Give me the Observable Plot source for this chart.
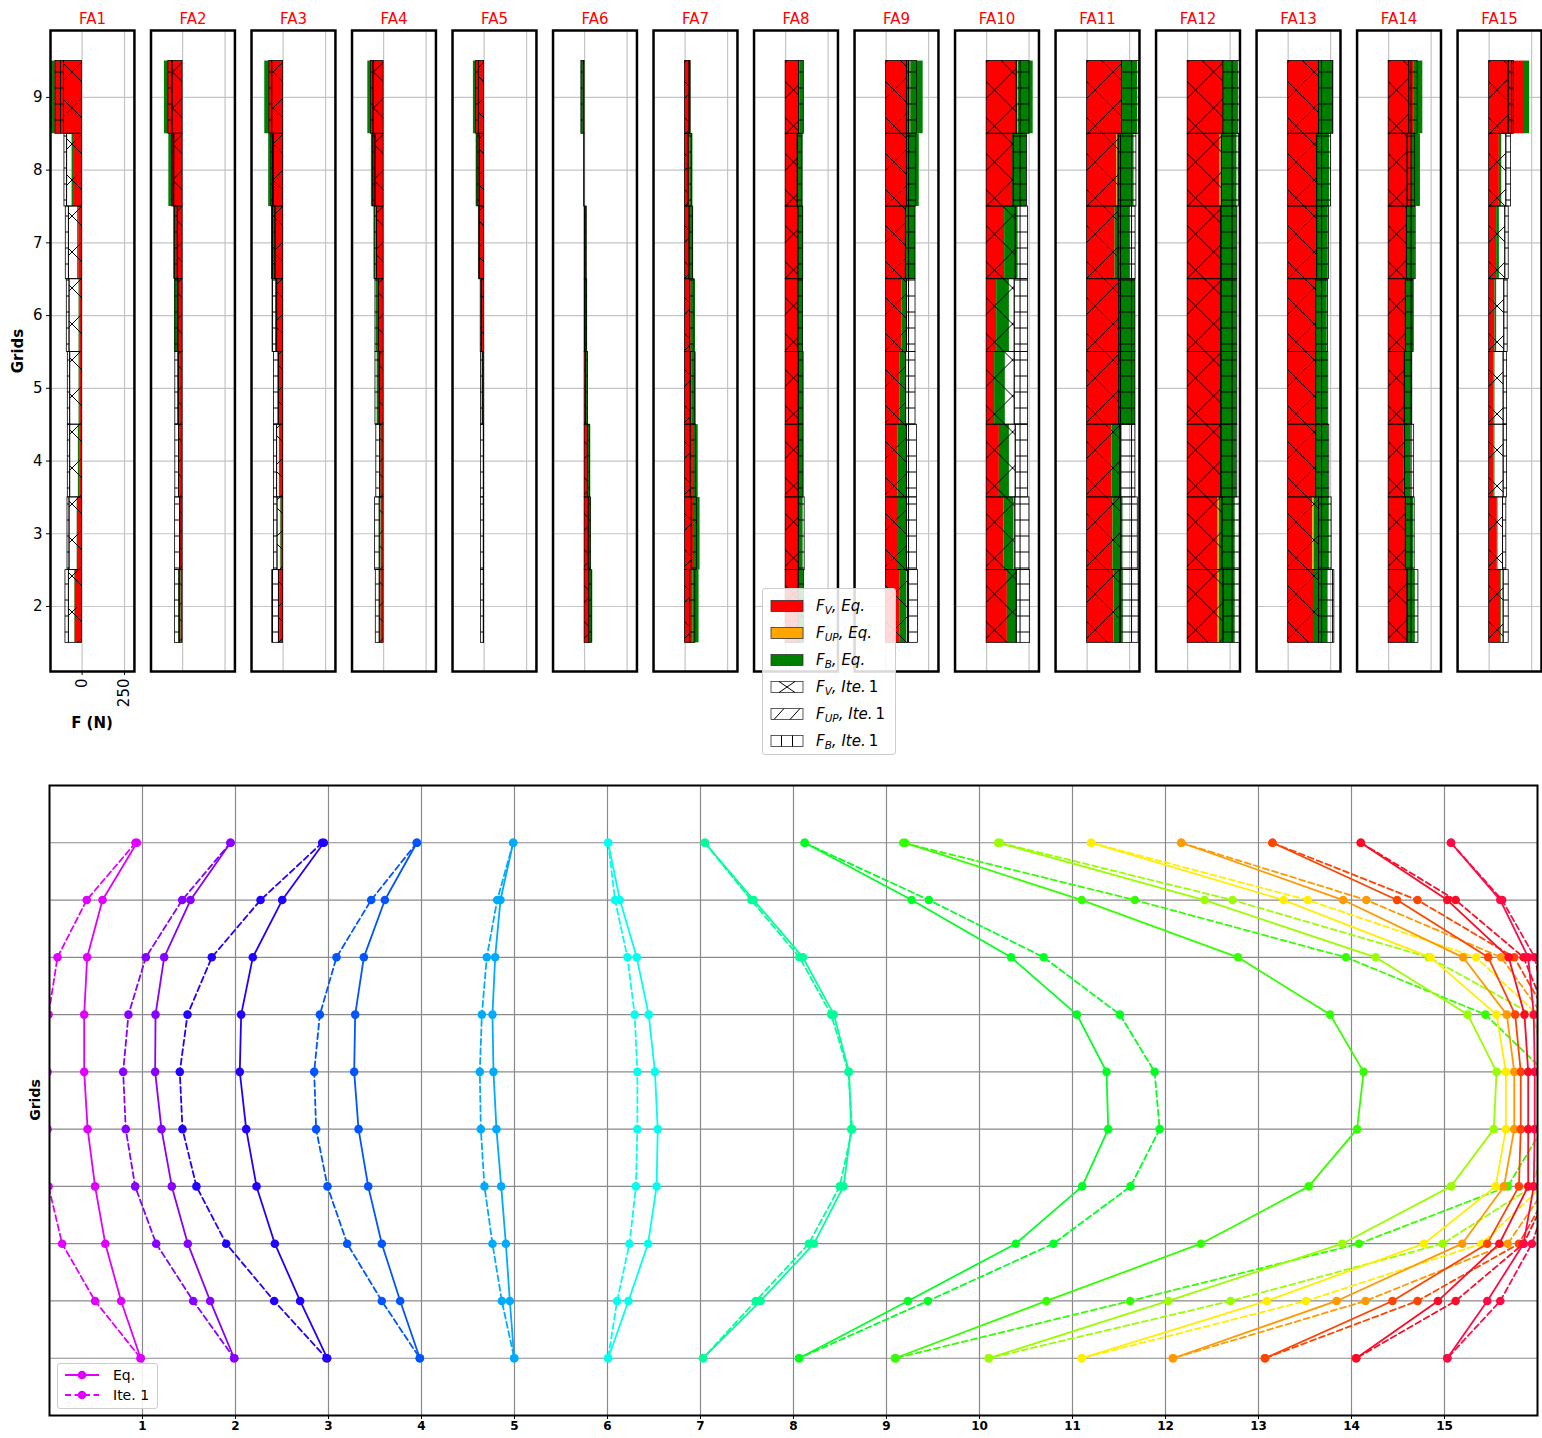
<!DOCTYPE html>
<html>
<head>
<meta charset="utf-8">
<script src="https://cdn.jsdelivr.net/npm/d3@7"></script>
<script src="https://cdn.jsdelivr.net/npm/@observablehq/plot@0.6"></script>
<style>
  body { margin: 0; background: #fff; font-family: "DejaVu Sans", sans-serif; }
  #wrap { position: relative; width: 1542px; height: 1438px; overflow: hidden; }
  #top { position: absolute; left: 0; top: 0; }
  #bottom { position: absolute; left: 0; top: 740px; }
  #top g[aria-label="fx-axis tick label"] text { fill: #ff0000; }
  #bottom g[aria-label="x-axis tick label"] text { font-weight: bold; }
  .legend { position: absolute; background: rgba(255,255,255,0.85); border: 1px solid #cccccc; border-radius: 3px; z-index: 5; }
  .lrow { position: absolute; left: 0; display: flex; align-items: center; white-space: nowrap; }
  .lrow svg { display: block; }
  .ylab { position: absolute; font-weight: bold; transform: translate(-50%, -50%) rotate(-90deg); white-space: nowrap; }
  .xlab { position: absolute; font-weight: bold; transform: translate(-50%, -50%); white-space: nowrap; }
  sub { font-size: 70%; vertical-align: -0.25em; }
</style>
</head>
<body>
<svg width="0" height="0" style="position:absolute">
  <defs>
    <pattern id="hX" patternUnits="userSpaceOnUse" width="36" height="36">
      <path d="M-9,-9L45,45M45,-9L-9,45" stroke="#000" stroke-width="1" fill="none"/>
    </pattern>
    <pattern id="hSlash" patternUnits="userSpaceOnUse" width="12" height="12">
      <path d="M0,12L12,0M-3,3L3,-3M9,15L15,9" stroke="#000" stroke-width="1" fill="none"/>
    </pattern>
    <pattern id="hPlus" patternUnits="userSpaceOnUse" width="11" height="16">
      <path d="M5.5,0V16M0,8H11" stroke="#000" stroke-width="1" fill="none"/>
    </pattern>
  </defs>
</svg>
<div id="wrap">
  <div id="top"></div>
  <div id="bottom"></div>
</div>
<script>
// ---------------- DATA ----------------
const FA = ["FA1","FA2","FA3","FA4","FA5","FA6","FA7","FA8","FA9","FA10","FA11","FA12","FA13","FA14","FA15"];
const grids = [2, 3, 4, 5, 6, 7, 8, 9];
const xTicksTop = [0, 250];

// Forces (N), rows = FA1..FA15, columns = grids 2..9
const fvEq = [
  [-41, -27, -14, -14, -14, -20, -45, -160],
  [-10, -14, -14, -16, -29, -35, -60, -84],
  [-16, -12, -16, -21, -35, -45, -60, -81],
  [-16, -14, -16, -23, -33, -45, -58, -74],
  [0, 0, 0, -6, -16, -27, -31, -47],
  [32, 28, 22, 8, 3, 2, 0, -3],
  [45, 55, 49, 39, 35, 30, 30, 31],
  [79, 75, 77, 77, 75, 75, 71, 83],
  [83, 73, 69, 83, 93, 116, 126, 142],
  [122, 102, 75, 47, 59, 106, 154, 181],
  [158, 152, 146, 189, 189, 165, 175, 205],
  [179, 179, 195, 195, 195, 195, 191, 211],
  [155, 145, 161, 161, 161, 167, 167, 181],
  [111, 101, 91, 95, 101, 107, 135, 151],
  [69, 48, 28, 28, 34, 44, 60, 202]
];
const fupEq = [
  [0, 0, 0, 0, 0, 0, 0, 0],
  [0, 0, 0, 0, 0, 0, 0, 0],
  [0, 0, 0, 0, 0, 0, 0, 0],
  [0, 0, 0, 0, 0, 0, 0, 0],
  [0, 0, 0, 0, 0, 0, 0, 0],
  [0, 0, 0, 0, 0, 0, 0, 0],
  [0, 0, 0, 0, 0, 0, 0, 0],
  [0, 0, 0, 0, 0, 0, 0, 0],
  [0, 0, 0, 0, 0, 0, 0, 3],
  [0, 0, 0, 0, 0, 0, 2, 6],
  [0, 0, 0, 0, 0, 0, 8, 3],
  [8, 8, 0, 0, 0, 0, 10, 3],
  [0, 8, 0, 0, 0, 0, 0, 3],
  [0, 0, 0, 0, 0, 0, 0, 0],
  [0, 0, 0, 0, 0, 0, 0, 0]
];
const fbEq = [
  [-3, -2, -8, -4, -4, -6, -14, -20],
  [-12, -4, -10, -14, -18, -18, -21, -23],
  [-6, -4, -6, -10, -10, -23, -25, -27],
  [-4, -3, -4, -15, -10, -10, -14, -19],
  [-2, -2, -2, -4, -2, -3, -16, -16],
  [16, 12, 14, 14, 14, 12, -3, -16],
  [37, 33, 28, 26, 26, 20, 16, 3],
  [28, 28, 30, 30, 30, 31, 31, 24],
  [39, 49, 53, 35, 30, 57, 69, 73],
  [55, 59, 59, 63, 75, 79, 80, 87],
  [55, 59, 59, 95, 95, 89, 93, 89],
  [93, 93, 93, 95, 95, 95, 89, 85],
  [80, 89, 77, 71, 69, 69, 77, 79],
  [46, 46, 40, 44, 46, 50, 52, 50],
  [4, 4, 6, 6, 10, 16, 14, 36]
];
const fvIte = [
  [-78, -74, -70, -70, -74, -78, -88, -107],
  [-18, -14, -20, -20, -25, -29, -49, -59],
  [-25, -33, -35, -25, -35, -45, -54, -64],
  [-23, -23, -20, -23, -29, -39, -48, -58],
  [-2, -2, -2, -8, -14, -25, -27, -31],
  [28, 24, 20, 8, 3, 2, 0, -3],
  [30, 39, 33, 33, 30, 26, 20, 26],
  [77, 77, 77, 77, 75, 75, 71, 79],
  [128, 122, 122, 118, 122, 116, 122, 122],
  [177, 169, 171, 165, 165, 171, 158, 177],
  [195, 200, 195, 189, 189, 185, 185, 205],
  [211, 205, 197, 197, 197, 197, 201, 211],
  [181, 181, 165, 165, 165, 171, 171, 181],
  [111, 101, 95, 95, 101, 107, 111, 121],
  [85, 81, 85, 85, 89, 95, 101, 115]
];
const fupIte = [
  [0, 0, 0, 0, 0, 0, 0, 0],
  [0, 0, 0, 0, 0, 0, 0, 0],
  [0, 0, 0, 0, 0, 0, 0, 0],
  [0, 0, 0, 0, 0, 0, 0, 0],
  [0, 0, 0, 0, 0, 0, 0, 0],
  [0, 0, 0, 0, 0, 0, 0, 0],
  [0, 0, 0, 0, 0, 0, 0, 0],
  [0, 0, 0, 0, 0, 0, 0, 0],
  [0, 0, 0, 0, 0, 0, 0, 0],
  [0, 0, 0, 0, 0, 0, 0, 0],
  [0, 0, 0, 0, 0, 0, 0, 0],
  [0, 0, 0, 0, 0, 0, 0, 0],
  [0, 0, 0, 0, 0, 0, 0, 0],
  [0, 0, 0, 0, 0, 0, 0, 0],
  [0, 0, 0, 0, 0, 0, 0, 0]
];
const fbIte = [
  [-20, -12, -14, -14, -16, -18, -16, -50],
  [-27, -30, -23, -23, -18, -16, -12, -25],
  [-39, -21, -19, -29, -27, -19, -15, -17],
  [-23, -27, -23, -25, -19, -14, -16, -16],
  [-16, -16, -16, -10, -6, -6, -12, -16],
  [14, 12, 12, 12, 12, 10, -3, -16],
  [30, 30, 32, 26, 24, 20, 20, 6],
  [32, 35, 28, 28, 28, 28, 28, 28],
  [59, 59, 59, 55, 51, 57, 55, 59],
  [79, 83, 73, 79, 79, 73, 79, 75],
  [108, 98, 89, 95, 95, 100, 105, 99],
  [98, 104, 95, 95, 95, 95, 100, 99],
  [91, 75, 77, 71, 69, 69, 81, 85],
  [64, 52, 55, 44, 46, 52, 45, 50],
  [30, 20, 20, 20, 20, 20, 28, 30]
];

// Lower chart: positions per FA at grid levels (top -> bottom)
const levels = [10, 9, 8, 7, 6, 5, 4, 3, 2, 1];
const xTicksBottom = [1,2,3,4,5,6,7,8,9,10,11,12,13,14,15];
const eqPos = [
  [0.94, 0.57, 0.405, 0.373, 0.373, 0.41, 0.49, 0.60, 0.77, 0.98],
  [1.946, 1.516, 1.233, 1.14, 1.136, 1.204, 1.315, 1.487, 1.728, 1.986],
  [2.95, 2.502, 2.186, 2.061, 2.046, 2.115, 2.226, 2.423, 2.695, 2.986],
  [3.95, 3.606, 3.38, 3.287, 3.276, 3.323, 3.427, 3.573, 3.771, 3.982],
  [4.986, 4.849, 4.792, 4.763, 4.774, 4.806, 4.857, 4.907, 4.95, 4.997],
  [6.007, 6.133, 6.314, 6.443, 6.51, 6.54, 6.528, 6.436, 6.225, 6.007],
  [7.047, 7.572, 8.101, 8.434, 8.597, 8.62, 8.538, 8.22, 7.646, 7.028],
  [8.12, 9.271, 10.34, 11.047, 11.366, 11.384, 11.104, 10.39, 9.23, 8.06],
  [9.2, 11.1, 12.78, 13.77, 14.13, 14.06, 13.54, 12.38, 10.72, 9.09],
  [10.2, 12.42, 14.26, 15.25, 15.56, 15.53, 15.07, 13.9, 12.03, 10.1],
  [11.2, 13.27, 14.85, 15.56, 15.66, 15.66, 15.55, 14.78, 13.09, 11.1],
  [12.17, 13.91, 15.2, 15.67, 15.75, 15.75, 15.64, 15.19, 13.84, 12.08],
  [13.15, 14.49, 15.47, 15.76, 15.82, 15.82, 15.8, 15.46, 14.44, 13.07],
  [14.1, 15.03, 15.69, 15.86, 15.9, 15.9, 15.9, 15.59, 14.93, 14.05],
  [15.07, 15.6, 15.9, 15.96, 15.97, 15.97, 15.96, 15.85, 15.46, 15.03]
];
const itePos = [
  [0.925, 0.40, 0.086, -0.01, -0.02, -0.02, -0.01, 0.136, 0.49, 0.98],
  [1.946, 1.427, 1.036, 0.849, 0.792, 0.82, 0.921, 1.147, 1.545, 1.986],
  [2.932, 2.269, 1.745, 1.484, 1.401, 1.43, 1.58, 1.9, 2.416, 2.978],
  [3.95, 3.459, 3.086, 2.907, 2.846, 2.867, 2.989, 3.201, 3.573, 3.982],
  [4.986, 4.814, 4.702, 4.649, 4.627, 4.638, 4.677, 4.763, 4.864, 4.997],
  [6.007, 6.081, 6.214, 6.292, 6.321, 6.321, 6.306, 6.236, 6.103, 6.007],
  [7.047, 7.546, 8.064, 8.405, 8.59, 8.631, 8.497, 8.164, 7.594, 7.028],
  [8.12, 9.456, 10.69, 11.51, 11.883, 11.937, 11.624, 10.795, 9.445, 8.06],
  [9.18, 11.67, 13.94, 15.44, 16.08, 16.05, 15.68, 14.08, 11.62, 9.1],
  [10.22, 12.72, 14.83, 15.95, 16.1, 16.1, 15.95, 14.98, 12.7, 10.1],
  [11.2, 13.53, 15.34, 16.0, 16.1, 16.1, 16.05, 15.4, 13.51, 11.1],
  [12.17, 14.16, 15.61, 16.05, 16.15, 16.15, 16.1, 15.68, 14.15, 12.08],
  [13.15, 14.71, 15.75, 16.1, 16.2, 16.2, 16.15, 15.8, 14.71, 13.07],
  [14.1, 15.12, 15.85, 16.1, 16.2, 16.2, 16.15, 15.85, 15.12, 14.05],
  [15.07, 15.62, 15.97, 16.1, 16.2, 16.2, 16.15, 15.94, 15.6, 15.03]
];
const faColors = ["#e100ff","#8800ff","#2200ff","#0055ff","#00aaff","#00ffee","#00ff99","#00ff22","#33ff00","#99ff00","#ffee00","#ff9900","#ff4400","#ff0a26","#ff0a44"];

const legendTop = [
  {html: "<i>F</i><sub><i>V</i></sub><i>, Eq.</i>", fill: "#ff0000", hatch: null},
  {html: "<i>F</i><sub><i>UP</i></sub><i>, Eq.</i>", fill: "#ffa500", hatch: null},
  {html: "<i>F</i><sub><i>B</i></sub><i>, Eq.</i>", fill: "#008000", hatch: null},
  {html: "<i>F</i><sub><i>V</i></sub><i>, Ite.</i>&#8201;1", fill: "#ffffff", hatch: "x"},
  {html: "<i>F</i><sub><i>UP</i></sub><i>, Ite.</i>&#8201;1", fill: "#ffffff", hatch: "/"},
  {html: "<i>F</i><sub><i>B</i></sub><i>, Ite.</i>&#8201;1", fill: "#ffffff", hatch: "+"}
];
const legendBottom = [
  {label: "Eq.", dash: null},
  {label: "Ite. 1", dash: "6,3.5"}
];

// ---------------- TOP: stacked bars per assembly ----------------
const segs = [];
FA.forEach((fa, i) => grids.forEach((g, j) => {
  const stack = (parts) => {
    let s = 0;
    parts.forEach(([k, v]) => { segs.push({fa, g, kind: k, x1: s, x2: s + v}); s += v; });
  };
  stack([["fvEq", fvEq[i][j]], ["fupEq", fupEq[i][j]], ["fbEq", fbEq[i][j]]]);
  stack([["fvIte", fvIte[i][j]], ["fupIte", fupIte[i][j]], ["fbIte", fbIte[i][j]]]);
}));
const bar = (k, opts) => Plot.rect(segs.filter(d => d.kind === k), {
  fx: "fa", x1: "x1", x2: "x2", y1: d => d.g - 0.5, y2: d => d.g + 0.5, ...opts
});

const topPlot = Plot.plot({
  width: 1542, height: 740,
  marginLeft: 50, marginRight: 1, marginTop: 30, marginBottom: 69,
  style: {fontFamily: "DejaVu Sans, sans-serif", fontSize: "15px", background: "white"},
  fx: {domain: FA, paddingInner: 0.165, paddingOuter: 0, round: false, axis: "top", label: null, tickSize: 0, tickPadding: 7},
  x: {domain: [-186, 308]},
  y: {domain: [1.106, 9.92]},
  marks: [
    Plot.gridX(xTicksTop, {stroke: "#c4c4c4", strokeOpacity: 1, strokeWidth: 1.2}),
    Plot.gridY(grids, {stroke: "#c4c4c4", strokeOpacity: 1, strokeWidth: 1.2}),
    bar("fvEq", {fill: "#ff0000"}),
    bar("fupEq", {fill: "#ffa500"}),
    bar("fbEq", {fill: "#008000"}),
    bar("fvIte", {fill: "url(#hX)", stroke: "#000", strokeWidth: 0.8}),
    bar("fupIte", {fill: "url(#hSlash)", stroke: "#000", strokeWidth: 0.8}),
    bar("fbIte", {fill: "url(#hPlus)", stroke: "#000", strokeWidth: 0.8}),
    Plot.frame({stroke: "#000", strokeWidth: 2.5}),
    Plot.axisY({ticks: grids, tickSize: 4, tickPadding: 4, label: null, tickFormat: d3.format("d")}),
    Plot.axisX({ticks: xTicksTop, tickRotate: -90, tickSize: 4, tickPadding: 3, label: null, facetAnchor: "left", tickFormat: d3.format("d")})
  ]
});
document.getElementById("top").appendChild(topPlot);

// ---------------- BOTTOM: lines per assembly ----------------
const lineMarks = [];
FA.forEach((fa, i) => {
  const eqRows = levels.map((L, j) => ({x: eqPos[i][j], y: L}));
  const iteRows = levels.map((L, j) => ({x: itePos[i][j], y: L}));
  const c = faColors[i];
  lineMarks.push(Plot.line(eqRows, {x: "x", y: "y", stroke: c, strokeWidth: 1.8, clip: true}));
  lineMarks.push(Plot.dot(eqRows, {x: "x", y: "y", fill: c, r: 4.3, clip: true}));
  lineMarks.push(Plot.line(iteRows, {x: "x", y: "y", stroke: c, strokeWidth: 1.8, strokeDasharray: "6,3.5", clip: true}));
  lineMarks.push(Plot.dot(iteRows, {x: "x", y: "y", fill: c, r: 4.3, clip: true}));
});

const bottomPlot = Plot.plot({
  width: 1542, height: 698,
  marginLeft: 49, marginRight: 5, marginTop: 45, marginBottom: 23,
  style: {fontFamily: "DejaVu Sans, sans-serif", fontSize: "12px", background: "white"},
  x: {domain: [0, 16]},
  y: {domain: [0, 11]},
  marks: [
    Plot.gridX(xTicksBottom, {stroke: "#8a8a8a", strokeOpacity: 1, strokeWidth: 1.2}),
    Plot.gridY(levels, {stroke: "#8a8a8a", strokeOpacity: 1, strokeWidth: 1.2}),
    ...lineMarks,
    Plot.frame({stroke: "#000", strokeWidth: 2}),
    Plot.axisX({ticks: xTicksBottom, tickSize: 4, tickPadding: 2, label: null, tickFormat: d3.format("d")}),
    Plot.axisY({ticks: [], label: null})
  ]
});
document.getElementById("bottom").appendChild(bottomPlot);

// ---------------- Labels & legends (HTML) ----------------
const wrap = d3.select("#wrap");
wrap.append("div").attr("class", "ylab").style("left", "18px").style("top", "351px").style("font-size", "15px").text("Grids");
wrap.append("div").attr("class", "xlab").style("left", "92px").style("top", "723px").style("font-size", "15px").text("F (N)");
wrap.append("div").attr("class", "ylab").style("left", "35px").style("top", "1100px").style("font-size", "14px").text("Grids");

const lt = wrap.append("div").attr("class", "legend")
  .style("left", "762px").style("top", "588px").style("width", "132px").style("height", "165px");
legendTop.forEach((item, k) => {
  const row = lt.append("div").attr("class", "lrow").style("top", (8 + k * 27) + "px").style("left", "7px");
  const s = row.append("svg").attr("width", 34).attr("height", 14);
  s.append("rect").attr("x", 1).attr("y", 1.5).attr("width", 32).attr("height", 11)
    .attr("fill", item.fill).attr("stroke", "#333").attr("stroke-width", 0.8);
  if (item.hatch === "x") s.append("path").attr("d", "M9,1.5L25,12.5M25,1.5L9,12.5").attr("stroke", "#000").attr("stroke-width", 1);
  if (item.hatch === "/") s.append("path").attr("d", "M4,12.5L14,1.5M20,12.5L30,1.5").attr("stroke", "#000").attr("stroke-width", 1);
  if (item.hatch === "+") s.append("path").attr("d", "M11.5,1.5V12.5M22.5,1.5V12.5").attr("stroke", "#000").attr("stroke-width", 1);
  row.append("span").style("font-size", "15px").style("margin-left", "12px").html(item.html);
});

const lb = wrap.append("div").attr("class", "legend")
  .style("left", "57px").style("top", "1363px").style("width", "99px").style("height", "44px");
legendBottom.forEach((item, k) => {
  const row = lb.append("div").attr("class", "lrow").style("top", (3 + k * 20) + "px").style("left", "5px");
  const s = row.append("svg").attr("width", 38).attr("height", 14);
  const ln = s.append("line").attr("x1", 2).attr("x2", 36).attr("y1", 7).attr("y2", 7)
    .attr("stroke", faColors[0]).attr("stroke-width", 1.8);
  if (item.dash) ln.attr("stroke-dasharray", item.dash);
  s.append("circle").attr("cx", 19).attr("cy", 7).attr("r", 4.3).attr("fill", faColors[0]);
  row.append("span").style("font-size", "14px").style("margin-left", "12px").text(item.label);
});
</script>
</body>
</html>
